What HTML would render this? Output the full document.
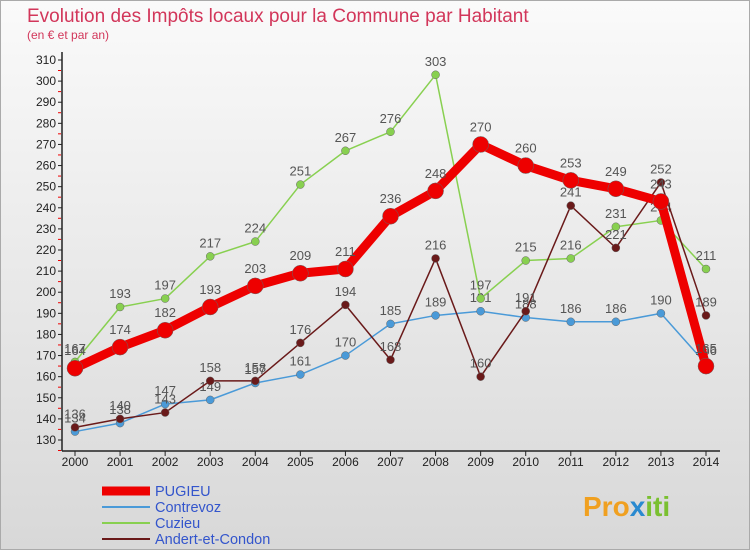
<!DOCTYPE html>
<html><head><meta charset="utf-8"><style>
body{margin:0;width:750px;height:550px;overflow:hidden;font-family:"Liberation Sans",sans-serif}
svg text{font-family:"Liberation Sans",sans-serif}
</style></head><body>
<svg id="c" width="750" height="550">
<defs><linearGradient id="bg" x1="0" y1="0" x2="0" y2="1"><stop offset="0" stop-color="#fafafa"/><stop offset="1" stop-color="#d8d8d8"/></linearGradient></defs>
<rect x="0.5" y="0.5" width="749" height="549" fill="url(#bg)" stroke="#aaa"/>
<text x="27" y="22" font-size="19" fill="#d2365a">Evolution des Impôts locaux pour la Commune par Habitant</text>
<text x="27" y="39" font-size="12" fill="#d2365a">(en € et par an)</text>
<g id="axes"></g><g id="series"></g><g id="legend"></g>
<text x="583" y="516" font-size="28" font-weight="bold" fill="#f0a020">Pro<tspan fill="#2a8ad0">x</tspan><tspan fill="#7ac030">iti</tspan></text>
</svg>
<script>
const years=[2000,2001,2002,2003,2004,2005,2006,2007,2008,2009,2010,2011,2012,2013,2014];
const pugieu=[164,174,182,193,203,209,211,236,248,270,260,253,249,243,165];
const contrevoz=[134,138,147,149,157,161,170,185,189,191,188,186,186,190,166];
const cuzieu=[167,193,197,217,224,251,267,276,303,197,215,216,231,234,211];
const andert=[136,140,143,158,158,176,194,168,216,160,191,241,221,252,189];
const yTicks=[130,140,150,160,170,180,190,200,210,220,230,240,250,260,270,280,290,300,310];
const NS="http://www.w3.org/2000/svg";
const xS=i=>75+i*(706-75)/(years.length-1);
const yS=v=>440-(v-130)*380/180;
function mk(t,a,p){const e=document.createElementNS(NS,t);for(const k in a)e.setAttribute(k,a[k]);p.appendChild(e);return e;}
const ax=document.getElementById('axes');
const yl=mk('line',{x1:62,y1:52,x2:62,y2:451,stroke:'#222','stroke-width':1.5},ax);


const xl=mk('line',{x1:62,y1:451,x2:720,y2:451,stroke:'#222','stroke-width':1.5},ax);


yTicks.forEach(v=>{
  mk('line',{x1:58,y1:yS(v),x2:62,y2:yS(v),stroke:'#222'},ax);
  mk('line',{x1:58,y1:yS(v)+10.5,x2:61,y2:yS(v)+10.5,stroke:'#e00'},ax);
  const t=mk('text',{x:56,y:yS(v)+4,'font-size':12,'text-anchor':'end',fill:'#222'},ax);t.textContent=v;
  
  
});
years.forEach((y,i)=>{
  mk('line',{x1:xS(i),y1:451,x2:xS(i),y2:456,stroke:'#222'},ax);
  const t=mk('text',{x:xS(i),y:466,'font-size':12,'text-anchor':'middle',fill:'#222'},ax);t.textContent=y;
  
  
});
const sg=document.getElementById('series');
const series=[
 {n:'contrevoz',d:contrevoz,c:'#4a9ad8',w:1.5,r:4,lab:'Contrevoz'},
 {n:'cuzieu',d:cuzieu,c:'#88d050',w:1.5,r:4,lab:'Cuzieu'},
 {n:'andert',d:andert,c:'#6a1a1a',w:1.5,r:4,lab:'Andert-et-Condon'},
 {n:'pugieu',d:pugieu,c:'#ee0000',w:9,r:8,lab:'PUGIEU'}];
series.forEach(s=>{
  const g=mk('g',{},sg);
  
  
  mk('polyline',{points:s.d.map((v,i)=>xS(i)+','+yS(v)).join(' '),fill:'none',stroke:s.c,'stroke-width':s.w,'stroke-linejoin':'round'},g);
  s.d.forEach((v,i)=>{
    const p=mk('circle',{cx:xS(i),cy:yS(v),r:s.r,fill:s.c,stroke:'#666','stroke-width':0.5},g);
    
    
    const t=mk('text',{x:xS(i),y:yS(v)-(s.r+5),'font-size':13,'text-anchor':'middle',fill:'#555'},g);t.textContent=v;
    
    
  });
});
const lg=document.getElementById('legend');
[series[3],series[0],series[1],series[2]].forEach((s,k)=>{
  const y=491+k*16;
  const e=mk('g',{},lg);
  
  
  mk('line',{x1:102,y1:y,x2:150,y2:y,stroke:s.c,'stroke-width':s.n==='pugieu'?9:2},e);
  const t=mk('text',{x:155,y:y+5,'font-size':14.5,fill:'#3355cc'},e);t.textContent=s.lab;
});
</script>
</body></html>
